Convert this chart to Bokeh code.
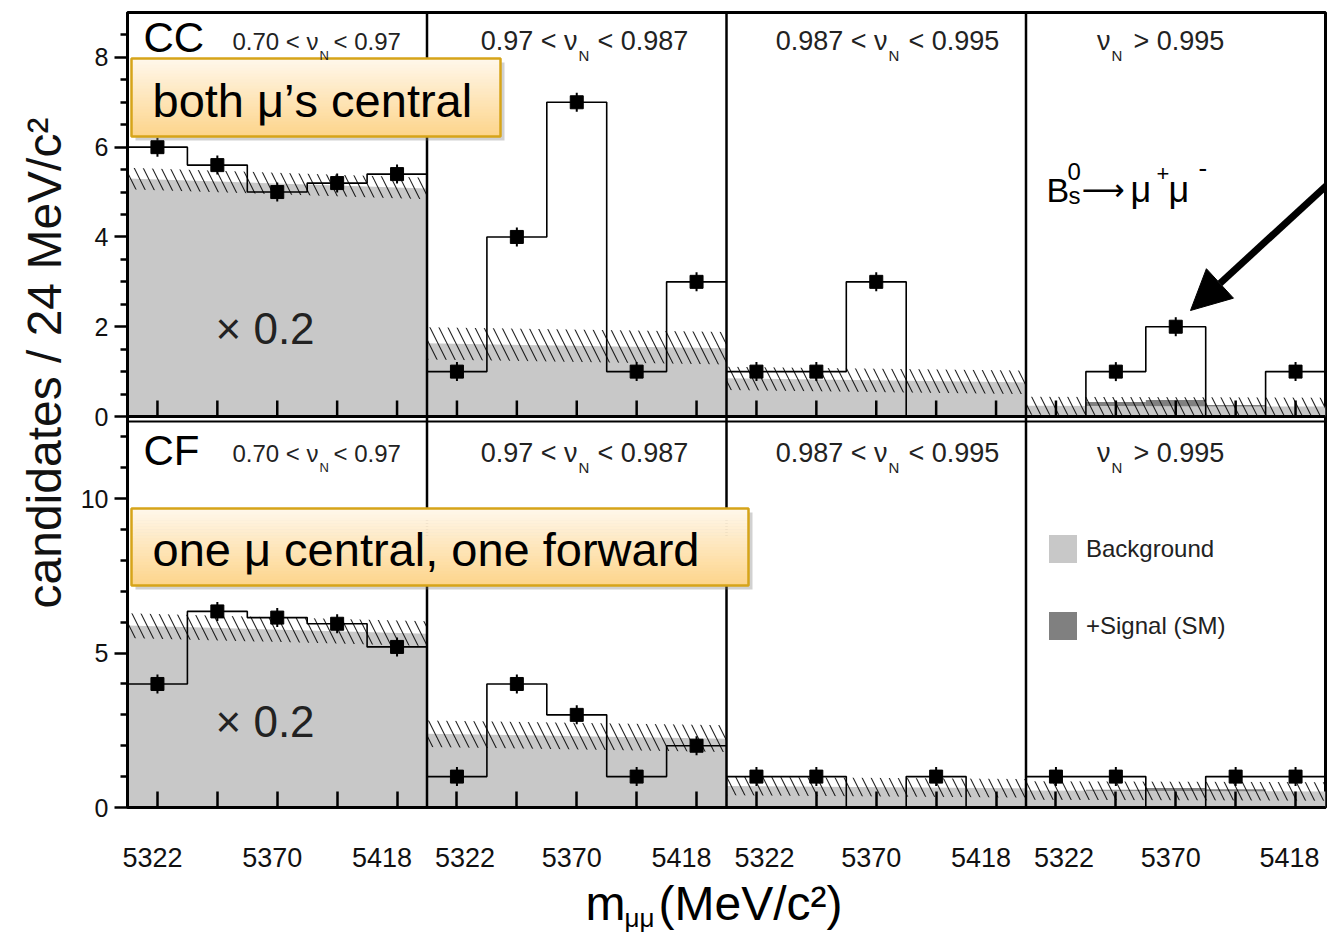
from bokeh.plotting import figure
from bokeh.layouts import column
from bokeh.models import (Range1d, FixedTicker, Label, Arrow, NormalHead,
                          Legend, LegendItem, LinearAxis, Title)
from bokeh.embed import file_html
from bokeh.resources import INLINE

# ------------------------------------------------------------------ data
EDGES = [5310, 5334, 5358, 5382, 5406, 5430]          # m_mumu bin edges (MeV/c^2)
CENTERS = [5322, 5346, 5370, 5394, 5418]
X_TICK_LABELS = [5322, 5370, 5418]

ROWS = ["CC", "CF"]
NN_LEFT = ["0.70 < ν", "0.97 < ν", "0.987 < ν", "ν"]
NN_RIGHT = ["< 0.97", "< 0.987", "< 0.995", "> 0.995"]

TOP_YMAX, BOT_YMAX = 9.0, 12.5
TOP_YTICKS = [0, 2, 4, 6, 8]
TOP_YMINOR = [0.5, 1, 1.5, 2.5, 3, 3.5, 4.5, 5, 5.5, 6.5, 7, 7.5, 8.5]
BOT_YTICKS = [0, 5, 10]
BOT_YMINOR = [1, 2, 3, 4, 6, 7, 8, 9, 11, 12]

# CC (both muons central); first NN bin shown x 0.2
cc_counts = [[6.0, 5.6, 5.0, 5.2, 5.4],
             [1, 4, 7, 1, 3],
             [1, 1, 3, 0, 0],
             [0, 1, 2, 0, 1]]
cc_bkg = [(5.30, 5.08), (1.63, 1.52), (0.85, 0.76), (0.24, 0.22)]
cc_bkg_err = [0.24, 0.36, 0.26, 0.20]
cc_sig = [[0, 0, 0, 0, 0], [0, 0, 0, 0, 0], [0, 0, 0, 0, 0],
          [0, 0.09, 0.14, 0.03, 0]]

# CF (one central, one forward)
cf_counts = [[4.0, 6.35, 6.15, 5.95, 5.2],
             [1, 4, 3, 1, 2],
             [1, 1, 0, 1, 0],
             [1, 1, 0, 1, 1]]
cf_bkg = [(5.89, 5.63), (2.39, 2.23), (0.70, 0.62), (0.55, 0.52)]
cf_bkg_err = [0.40, 0.43, 0.30, 0.30]
cf_sig = [[0, 0, 0, 0, 0], [0, 0, 0, 0, 0], [0, 0, 0, 0, 0],
          [0, 0.03, 0.10, 0.06, 0]]

# ------------------------------------------------------------------ layout / style
FONT = "Liberation Sans"
FRAME_LEFT, FRAME_TOP = 127, 12          # page pixel position of frame
FRAME_W, FRAME_H = 1198, 795
FRAME_BOTTOM = FRAME_TOP + FRAME_H
MAIN_H = 877
XLAB_H = 56
PANEL_W = FRAME_W / 4
BOT_ROW = (0, 386)
TOP_ROW = (391, FRAME_H)
BKG_COLOR = "#c8c8c8"
SIG_COLOR = "#808080"
LABEL_SHIFT = [[-5, -5, -15], [8, -5, -15], [8, -5, -15], [8, -5, -6]]
BASELINE_FIX = 0.365      # measured drop of "alphabetic" labels, in em

p = figure(width=1327, height=MAIN_H,
           x_range=Range1d(0, FRAME_W), y_range=Range1d(0, FRAME_H),
           output_backend="svg", toolbar_location=None,
           min_border_left=FRAME_LEFT, min_border_right=2,
           min_border_top=FRAME_TOP, min_border_bottom=MAIN_H - FRAME_BOTTOM)
p.grid.visible = False
p.outline_line_color = "black"
p.outline_line_width = 3
p.background_fill_color = "white"
p.border_fill_color = "white"


def row_map(v, ymax, rw):
    return rw[0] + v / ymax * (rw[1] - rw[0])


def xpos(i, m):
    return i * PANEL_W + (m - EDGES[0]) / (EDGES[-1] - EDGES[0]) * PANEL_W


# ---------------- x axis (bottom row): ticks
xt = [xpos(i, c) for i in range(4) for c in CENTERS]
p.xaxis.ticker = FixedTicker(ticks=xt, minor_ticks=[])
p.xaxis.major_label_overrides = {t: "" for t in xt}
p.xaxis.major_label_text_font_size = "1px"
p.xaxis.major_label_standoff = 0
p.xaxis.major_tick_in = 16
p.xaxis.major_tick_out = 0
p.xaxis.major_tick_line_width = 2.5
p.xaxis.axis_line_width = 3

# x tick labels (second axis, label row only)
lt, lov = [], {}
for i in range(4):
    for j, c in enumerate(X_TICK_LABELS):
        pos = xpos(i, c) + LABEL_SHIFT[i][j]
        lt.append(pos)
        lov[pos] = str(c)
lab_axis = LinearAxis(ticker=FixedTicker(ticks=lt, minor_ticks=[]),
                      major_label_overrides=lov, major_tick_in=0, major_tick_out=0,
                      axis_line_color=None, major_tick_line_color=None,
                      major_label_standoff=40, major_label_text_font=FONT,
                      major_label_text_font_size="27px",
                      major_label_text_color="#111111")
p.add_layout(lab_axis, "below")

# ---------------- y axis (both rows)
yt, yov, ymt = [], {}, []
for v in TOP_YTICKS:
    pos = row_map(v, TOP_YMAX, TOP_ROW)
    yt.append(pos)
    yov[pos] = str(v)
for v in BOT_YTICKS:
    pos = row_map(v, BOT_YMAX, BOT_ROW)
    yt.append(pos)
    yov[pos] = str(v)
ymt += [row_map(v, TOP_YMAX, TOP_ROW) for v in TOP_YMINOR]
ymt += [row_map(v, BOT_YMAX, BOT_ROW) for v in BOT_YMINOR]
p.yaxis.ticker = FixedTicker(ticks=yt, minor_ticks=ymt)
p.yaxis.major_label_overrides = yov
p.yaxis.major_tick_in = 0
p.yaxis.major_tick_out = 13
p.yaxis.minor_tick_in = 0
p.yaxis.minor_tick_out = 7
p.yaxis.major_tick_line_width = 2.5
p.yaxis.minor_tick_line_width = 2.5
p.yaxis.axis_line_width = 3
p.yaxis.major_label_standoff = 6
p.yaxis.major_label_text_font = FONT
p.yaxis.major_label_text_font_size = "25px"
p.yaxis.major_label_text_color = "#111111"

# y axis title (shared by both rows), starting 608 px down the page
p.add_layout(Title(text="candidates / 24 MeV/c²", align="left", offset=FRAME_BOTTOM - 608,
                   text_font=FONT, text_font_size="48px", text_font_style="normal",
                   text_color="#111111", standoff=14), "left")

# ---------------- panels
legend_bkg = None
legend_sig = None
for r, (counts_all, bkg_all, err_all, sig_all, ymax, rw) in enumerate([
        (cc_counts, cc_bkg, cc_bkg_err, cc_sig, TOP_YMAX, TOP_ROW),
        (cf_counts, cf_bkg, cf_bkg_err, cf_sig, BOT_YMAX, BOT_ROW)]):
    for i in range(4):
        xy = p.subplot(x_source=Range1d(EDGES[0], EDGES[-1]), y_source=Range1d(0, ymax),
                       x_target=Range1d(i * PANEL_W, (i + 1) * PANEL_W),
                       y_target=Range1d(rw[0], rw[1]))
        counts = counts_all[i]
        bl, br = bkg_all[i]
        err = err_all[i]
        sig = sig_all[i]

        def bkg_at(m):
            return bl + (br - bl) * (m - EDGES[0]) / (EDGES[-1] - EDGES[0])

        # signal (stacked on background)
        ks = [k for k in range(5) if sig[k] > 0]
        if ks:
            rs = xy.quad(left=[EDGES[k] for k in ks], right=[EDGES[k + 1] for k in ks],
                         bottom=[0] * len(ks), top=[bkg_at(CENTERS[k]) + sig[k] for k in ks],
                         fill_color=SIG_COLOR, line_color=None)
            if r == 0 and i == 3:
                legend_sig = rs
        # background
        rb = xy.varea(x=[EDGES[0], EDGES[-1]], y1=[0, 0], y2=[bl, br],
                      fill_color=BKG_COLOR)
        if r == 0 and i == 3:
            legend_bkg = rb
        # background uncertainty band (hatched)
        xy.varea(x=[EDGES[0], EDGES[-1]], y1=[max(0, bl - err), max(0, br - err)],
                 y2=[bl + err, br + err], fill_alpha=0,
                 hatch_pattern="\\", hatch_color="black", hatch_scale=18,
                 hatch_weight=1.1, hatch_alpha=0.85)
        # observed histogram
        xy.step(x=EDGES, y=list(counts) + [counts[-1]], mode="after",
                line_color="black", line_width=1.6)
        # data points
        px_ = [CENTERS[k] for k in range(5) if counts[k] > 0]
        py_ = [counts[k] for k in range(5) if counts[k] > 0]
        xy.scatter(x=px_, y=py_, marker="dash", angle=1.5708, size=19,
                   line_color="black", line_width=2)
        xy.scatter(x=px_, y=py_, marker="square", size=13, fill_color="black",
                   line_color="black")
        # inner x ticks for the top row
        if r == 0:
            th = 16 / (rw[1] - rw[0]) * ymax
            xy.segment(x0=CENTERS, y0=[0] * 5, x1=CENTERS, y1=[th] * 5,
                       line_color="black", line_width=2.5)

# panel separators
sx = [PANEL_W * i for i in range(1, 4)]
p.segment(x0=sx, y0=[0] * 3, x1=sx, y1=[FRAME_H] * 3, line_color="black", line_width=2.5)
p.segment(x0=[0], y0=[TOP_ROW[0]], x1=[FRAME_W], y1=[TOP_ROW[0]], line_color="black", line_width=3)
p.segment(x0=[0], y0=[BOT_ROW[1]], x1=[FRAME_W], y1=[BOT_ROW[1]], line_color="black", line_width=2)


# ---------------- helpers for page-pixel placed decorations
def fx(page_x):
    return page_x - FRAME_LEFT


def fy(page_y):
    return FRAME_BOTTOM - page_y


def txt(page_x, page_y, text, size, align="left", color="black", font=FONT,
        fig=None, ox=FRAME_LEFT, oy=FRAME_BOTTOM):
    target = p if fig is None else fig
    target.add_layout(Label(x=page_x - ox, y=oy - (page_y - BASELINE_FIX * size),
                            text=text, text_font=font,
                            text_font_size=f"{size}px", text_align=align,
                            text_baseline="alphabetic", text_color=color))


def hexmix(c0, c1, t):
    a = [int(c0[k:k + 2], 16) for k in (1, 3, 5)]
    b = [int(c1[k:k + 2], 16) for k in (1, 3, 5)]
    return "#" + "".join(f"{round(a[j] + (b[j] - a[j]) * t):02x}" for j in range(3))


def gradient_box(x0, y0, x1, y1):
    # shadow
    p.quad(left=[fx(x0) + 4], right=[fx(x1) + 4], top=[fy(y0) - 4], bottom=[fy(y1) - 4],
           fill_color="#7a7a7a", fill_alpha=0.35, line_color=None)
    n = 26
    h = (y1 - y0) / n
    lefts, rights, tops, bots, cols = [], [], [], [], []
    for k in range(n):
        lefts.append(fx(x0))
        rights.append(fx(x1))
        tops.append(fy(y0 + k * h))
        bots.append(fy(y0 + (k + 1) * h) - 0.5)
        cols.append(hexmix("#fff7ea", "#fdd58c", k / (n - 1)))
    p.quad(left=lefts, right=rights, top=tops, bottom=bots, fill_color=cols, line_color=None)
    p.quad(left=[fx(x0)], right=[fx(x1)], top=[fy(y0)], bottom=[fy(y1)],
           fill_alpha=0, line_color="#d6a419", line_width=2.5)


gradient_box(131, 58, 500, 136)
gradient_box(131, 508, 748, 585)

# ---------------- texts inside the frame
txt(143, 52, ROWS[0], 42)
txt(143, 465, ROWS[1], 42)

nn_anchor = [318, 577, 887, 1110]
nn_right = [333, 597, 908, 1133]
for r, (base, sub) in enumerate([(50, 60), (462, 472)]):
    for i in range(4):
        fs = 24 if i == 0 else 27
        txt(nn_anchor[i], base, NN_LEFT[i], fs, align="right", color="#222222")
        txt(nn_anchor[i] + 1, sub, "N", 13 if i == 0 else 15, color="#222222")
        txt(nn_right[i], base, NN_RIGHT[i], fs, color="#222222")

txt(215, 344, "× 0.2", 44, color="#222222")
txt(215, 737, "× 0.2", 44, color="#222222")

txt(152, 117, "both μ’s central", 47)
txt(152, 566, "one μ central, one forward", 47)

# B_s^0 -> mu+ mu-
txt(1046, 202, "B", 34)
txt(1067, 180, "0", 24)
txt(1068, 204, "s", 24)
txt(1081, 200, "⟶", 30, font="DejaVu Sans")
txt(1130, 202, "μ", 36)
txt(1156, 181, "+", 22)
txt(1168, 202, "μ", 36)
txt(1198, 177, "-", 26)

p.add_layout(Arrow(end=NormalHead(size=40, fill_color="black", line_color="black"),
                   x_start=fx(1326), y_start=fy(185), x_end=fx(1190), y_end=fy(310),
                   line_width=7, line_color="black"))

# legend
legend = Legend(items=[LegendItem(label="Background", renderers=[legend_bkg]),
                       LegendItem(label="+Signal (SM)", renderers=[legend_sig])],
                location=(fx(1045), fy(643)), orientation="vertical",
                glyph_width=35, glyph_height=35, spacing=42, padding=0, margin=0,
                label_standoff=6, label_text_font=FONT, label_text_font_size="24px",
                label_text_color="#222222", border_line_alpha=0,
                background_fill_alpha=0)
p.add_layout(legend)

# ---------------- x axis title (strip below the chart, frame aligned with the plot)
xlab = figure(width=1327, height=XLAB_H,
              x_range=Range1d(FRAME_LEFT, FRAME_LEFT + FRAME_W), y_range=Range1d(0, XLAB_H),
              x_axis_type=None, y_axis_type=None, output_backend="svg",
              toolbar_location=None, min_border_left=FRAME_LEFT, min_border_right=2,
              min_border_top=0, min_border_bottom=0)
xlab.grid.visible = False
xlab.outline_line_color = None
xlab.background_fill_color = "white"
xlab.border_fill_color = "white"
XO = MAIN_H + XLAB_H
txt(585, 921, "m", 48, fig=xlab, ox=0, oy=XO)
txt(624, 927, "μμ", 26, fig=xlab, ox=0, oy=XO)
txt(658, 921, "(MeV/c²)", 48, fig=xlab, ox=0, oy=XO)

layout = column(p, xlab)

open("out.html", "w").write(file_html(layout, INLINE))
